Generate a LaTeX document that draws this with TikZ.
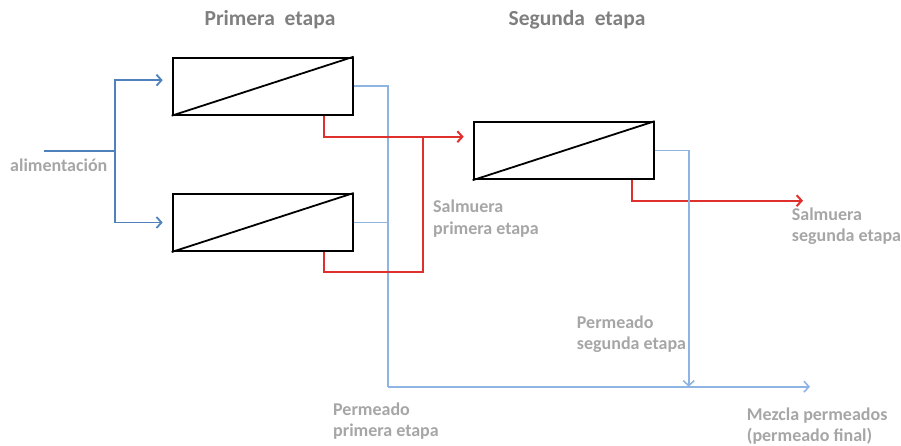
\documentclass[tikz,border=0pt]{standalone}
\usepackage{fontspec}
\setmainfont{Carlito}
\usetikzlibrary{arrows.meta,calc}
\definecolor{azul}{HTML}{4F81BD}
\definecolor{celeste}{HTML}{8EB4E3}
\definecolor{rojo}{HTML}{E0302E}
\definecolor{grisT}{HTML}{7F7F7F}
\definecolor{grisL}{HTML}{A6A6A6}
\begin{document}
\begin{tikzpicture}[x=1pt,y=-1pt,>={Straight Barb[length=5pt,width=11pt]}]
   \useasboundingbox (0,0) rectangle (901,446);
   \tikzstyle{modulo}=[draw=black, line width=2pt, minimum width=180pt, minimum height=57pt, inner sep=0pt]
   \tikzstyle{alim}=[draw=azul, line width=1.8pt]
   \tikzstyle{perm}=[draw=celeste, line width=1.6pt]
   \tikzstyle{salm}=[draw=rojo, line width=2pt]
   \tikzstyle{titulo}=[font=\bfseries\fontsize{21.5}{26}\selectfont, text=grisT, anchor=base]
   \tikzstyle{etiq}=[font=\bfseries\fontsize{18}{21}\selectfont, text=grisL, align=left, anchor=base west, inner sep=0pt]
   \node[titulo] (t1) at (270,26) {Primera\ \ etapa};
   \node[titulo] (t2) at (577,26) {Segunda\ \ etapa};
   \foreach \m/\x/\y in {m1/262.7/86.2, m2/262.7/222.5, m3/563.7/150.7} {
       \node[modulo] (\m) at (\x,\y) {};
       \draw[line width=1.8pt] (\m.south west) -- (\m.north east);
   }
   % alimentacion
   \coordinate (entrada) at (44,151);
   \coordinate (reparto) at (115,151);
   \draw[alim,->,shorten >=9pt] (entrada) -- (reparto) |- ($(m1.west)+(0,-6)$);
   \draw[alim,->,shorten >=9pt] (reparto) |- (m2.west);
   % permeados
   \coordinate (colector) at (388,386.7);
   \coordinate (union) at (688.7,386.7);
   \coordinate (mezcla) at (810,386.7);
   \draw[perm] (m1.east) -| (colector);
   \draw[perm] (m2.east) -- (m2.east -| colector);
   \draw[perm,->] (colector) -- (mezcla);
   % salmueras
   \coordinate (r1) at (423,136.7);
   \coordinate (r2) at (423,272.3);
   \coordinate (salida) at (803,200.7);
   \draw[salm,->,shorten >=9pt] ($(m1.south east)+(-30,0)$) |- ($(m3.west)+(0,-14)$);
   \draw[salm] ($(m2.south east)+(-30,0)$) |- (r2) -- (r1);
   \draw[salm,->] ($(m3.south east)+(-22.3,0)$) |- (salida);
   \draw[perm,->] (m3.east) -| (union);
   % textos
   \node[etiq] (l0) at (10,172) {alimentación};
   \node[etiq] (l1) at (433,234) {Salmuera\\primera etapa};
   \node[etiq] (l2) at (791.7,241.7) {Salmuera\\segunda etapa};
   \node[etiq] (l3) at (576.7,349.3) {Permeado\\segunda etapa};
   \node[etiq] (l4) at (333,436) {Permeado\\primera etapa};
   \node[etiq] (l5) at (746.7,441.5) {Mezcla permeados\\(permeado final)};
\end{tikzpicture}
\end{document}
